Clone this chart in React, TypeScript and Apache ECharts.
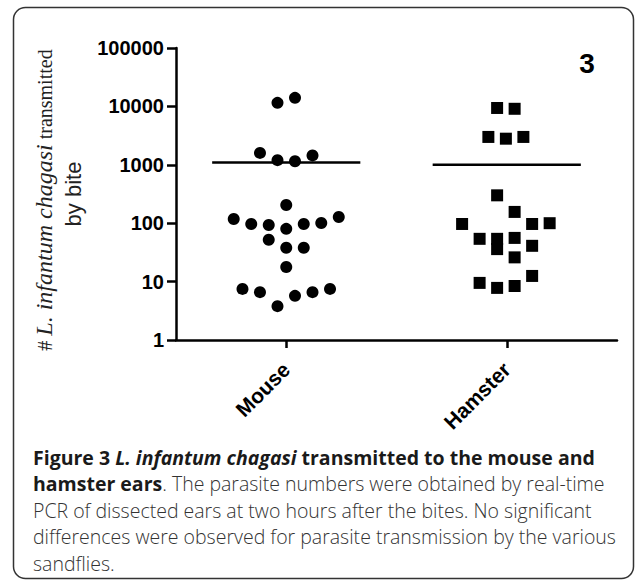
import React, { useEffect, useRef } from "react";
import * as echarts from "echarts";

// ---- data ----
const categories = ["Mouse", "Hamster"];
const yMin = 1;
const yMax = 100000;

// Mouse: parasites transmitted per bite, with dot-plot column offsets (in columns)
const mouseValues = [11500, 14000, 1600, 1200, 1150, 1450, 205, 118, 97, 93, 80, 97, 101, 128, 52, 38, 38, 17.8, 7.5, 6.6, 3.8, 5.7, 6.6, 7.5];
const mouseColumns = [-0.5, 0.5, -1.5, -0.5, 0.5, 1.5, 0, -3, -2, -1, 0, 1, 2, 3, -1, 0, 1, 0, -2.5, -1.5, -0.5, 0.5, 1.5, 2.5];

// Hamster
const hamsterValues = [9400, 9100, 3000, 2800, 3000, 300, 156, 97, 97, 100, 54, 54, 36, 56, 41, 26, 9.5, 7.8, 8.4, 12.5];
const hamsterColumns = [-0.55, 0.45, -1.05, -0.05, 0.95, -0.55, 0.45, -2.55, 1.45, 2.45, -1.55, -0.55, -0.55, 0.45, 1.45, 0.45, -1.55, -0.55, 0.45, 1.45];

// group means (horizontal lines)
const mouseMean = 1100;
const hamsterMean = 1000;

const panelLabel = "3";

// y-axis title pieces
const yTitleHash = "#";
const yTitleSpecies = "L. infantum chagasi";
const yTitleRest = "transmitted";
const yTitleLine2 = "by bite";

const captionLines = [
  "{b|Figure 3 }{bi|L. infantum chagasi}{b| transmitted to the mouse and}",
  "{b|hamster ears}{r|. The parasite numbers were obtained by real-time}",
  "{r|PCR of dissected ears at two hours after the bites. No significant}",
  "{r|differences were observed for parasite transmission by the various}",
  "{r|sandflies.}",
];

// ---- layout constants ----
const COLUMN_STEP = 0.0794; // category units per dot column
const MEAN_HALF = 0.336;

const SERIF = "'Liberation Serif', 'Times New Roman', serif";
const SANS = "'Liberation Sans', Arial, sans-serif";
const CAP_FONT = "'Open Sans', 'Noto Sans', sans-serif";

function measure(text: string, font: string): number {
  const c = document.createElement("canvas").getContext("2d");
  if (!c) return text.length * 8;
  c.font = font;
  return c.measureText(text).width;
}

export default function App() {
  const ref = useRef<HTMLDivElement>(null);

  useEffect(() => {
    if (!ref.current) return;
    const chart = echarts.init(ref.current, undefined, { renderer: "svg" });

    const mouseData = mouseValues.map((v, i) => [0 + mouseColumns[i] * COLUMN_STEP, v]);
    const hamsterData = hamsterValues.map((v, i) => [1 + hamsterColumns[i] * COLUMN_STEP, v]);

    const axisColor = "#000";
    const rot = Math.PI / 2;

    // y title line 1 layout (rotated, reading bottom to top)
    const nSize = 20;
    const iSize = 24;
    const nFont = `${nSize}px ${SERIF}`;
    const iFont = `italic ${iSize}px ${SERIF}`;
    const wHash = measure(yTitleHash, nFont);
    const wSpace = measure(" ", nFont);
    const wSpecies = measure(yTitleSpecies, iFont);
    const wRest = measure(yTitleRest, nFont);
    const total = wHash + wSpace + wSpecies + wSpace + wRest;
    const centerY = 200;
    let yCur = centerY + total / 2;
    const yHash = yCur;
    yCur -= wHash + wSpace;
    const ySpecies = yCur;
    yCur -= wSpecies + wSpace;
    const yRest = yCur;
    const line1X = 44;
    const baselineShift = 0.34 * (iSize - nSize);

    chart.setOption({
      animation: false,
      backgroundColor: "#fff",
      grid: { left: 176, right: 18, top: 48, bottom: 243, containLabel: false },
      xAxis: [
        {
          type: "category",
          data: categories,
          boundaryGap: true,
          axisLine: { show: true, onZero: false, lineStyle: { color: axisColor, width: 2.5 } },
          axisTick: { show: true, alignWithLabel: true, length: 8, lineStyle: { color: axisColor, width: 2.5 } },
          axisLabel: {
            rotate: 45,
            margin: 26,
            color: "#000",
            fontSize: 21,
            fontWeight: "bold",
            fontFamily: SANS,
          },
          splitLine: { show: false },
        },
        {
          type: "value",
          min: -0.5,
          max: 1.5,
          show: false,
        },
      ],
      yAxis: {
        type: "log",
        logBase: 10,
        min: yMin,
        max: yMax,
        axisLine: { show: true, onZero: false, lineStyle: { color: axisColor, width: 2.5 } },
        axisTick: { show: true, length: 9, lineStyle: { color: axisColor, width: 2.5 } },
        minorTick: { show: false },
        splitLine: { show: false },
        axisLabel: {
          color: "#000",
          fontSize: 20,
          fontWeight: "bold",
          fontFamily: SANS,
          margin: 12,
          formatter: (v: number) => String(Math.round(v)),
        },
      },
      series: [
        {
          type: "scatter",
          xAxisIndex: 1,
          data: mouseData,
          symbol: "circle",
          symbolSize: 12,
          itemStyle: { color: "#000", opacity: 1 },
          silent: true,
        },
        {
          type: "scatter",
          xAxisIndex: 1,
          data: hamsterData,
          symbol: "rect",
          symbolSize: 12,
          itemStyle: { color: "#000", opacity: 1 },
          silent: true,
        },
        {
          type: "line",
          xAxisIndex: 1,
          data: [
            [0 - MEAN_HALF, mouseMean],
            [0 + MEAN_HALF, mouseMean],
          ],
          showSymbol: false,
          symbol: "none",
          lineStyle: { color: "#000", width: 2.5 },
          silent: true,
        },
        {
          type: "line",
          xAxisIndex: 1,
          data: [
            [1 - MEAN_HALF, hamsterMean],
            [1 + MEAN_HALF, hamsterMean],
          ],
          showSymbol: false,
          symbol: "none",
          lineStyle: { color: "#000", width: 2.5 },
          silent: true,
        },
      ],
      graphic: [
        {
          type: "rect",
          shape: { x: 13.5, y: 7.5, width: 620, height: 571, r: 12 },
          style: { fill: "none", stroke: "#333", lineWidth: 1.5 },
          silent: true,
        },
        // y-axis title (rotated)
        {
          type: "text",
          x: line1X + baselineShift,
          y: yHash,
          rotation: rot,
          style: { text: yTitleHash, fontFamily: SERIF, fontSize: nSize, fill: "#222", align: "left", verticalAlign: "middle" },
        },
        {
          type: "text",
          x: line1X,
          y: ySpecies,
          rotation: rot,
          style: { text: yTitleSpecies, fontFamily: SERIF, fontStyle: "italic", fontSize: iSize, fill: "#222", align: "left", verticalAlign: "middle" },
        },
        {
          type: "text",
          x: line1X + baselineShift,
          y: yRest,
          rotation: rot,
          style: { text: yTitleRest, fontFamily: SERIF, fontSize: nSize, fill: "#222", align: "left", verticalAlign: "middle" },
        },
        {
          type: "text",
          x: 73,
          y: 194,
          rotation: rot,
          style: { text: yTitleLine2, fontFamily: SANS, fontSize: 22, fill: "#222", align: "center", verticalAlign: "middle" },
        },
        {
          type: "text",
          x: 587,
          y: 63,
          style: {
            text: panelLabel,
            fontFamily: SANS,
            fontSize: 28,
            fontWeight: "bold",
            fill: "#000",
            align: "center",
            verticalAlign: "middle",
          },
        },
        {
          type: "text",
          x: 33,
          y: 444,
          style: {
            text: captionLines.join("\n"),
            align: "left",
            verticalAlign: "top",
            rich: {
              b: { fontFamily: CAP_FONT, fontSize: 19.5, fontWeight: "bold", fill: "#1a1a1a", lineHeight: 26.5 },
              bi: { fontFamily: CAP_FONT, fontSize: 19.5, fontWeight: "bold", fontStyle: "italic", fill: "#1a1a1a", lineHeight: 26.5 },
              r: { fontFamily: CAP_FONT, fontSize: 19.5, fontWeight: 300, fill: "#333", lineHeight: 26.5 },
            },
          },
        },
      ],
    });

    return () => chart.dispose();
  }, []);

  return (
    <div
      ref={ref}
      style={{ position: "absolute", left: 0, top: 0, width: 635, height: 583, background: "#fff" }}
    />
  );
}
